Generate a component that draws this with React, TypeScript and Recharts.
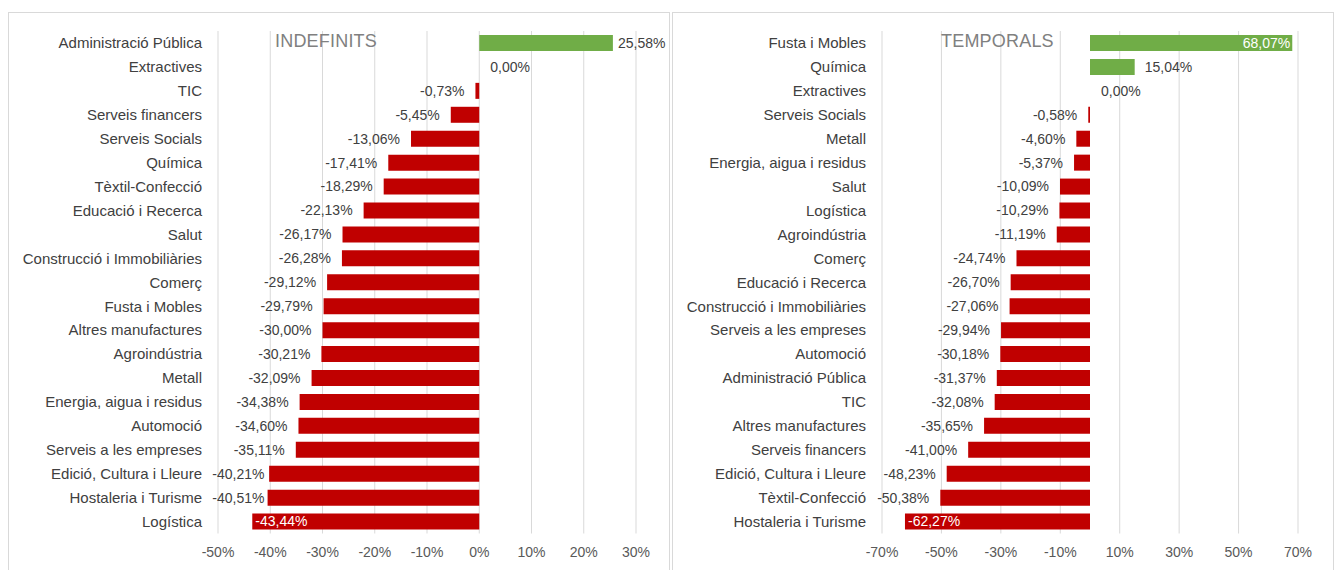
import { Bar, BarChart, CartesianGrid, Cell, LabelList, XAxis, YAxis } from "recharts";

// INDEFINITS: change per sector (%)
const indefCategories = [
  "Administració Pública",
  "Extractives",
  "TIC",
  "Serveis financers",
  "Serveis Socials",
  "Química",
  "Tèxtil-Confecció",
  "Educació i Recerca",
  "Salut",
  "Construcció i Immobiliàries",
  "Comerç",
  "Fusta i Mobles",
  "Altres manufactures",
  "Agroindústria",
  "Metall",
  "Energia, aigua i residus",
  "Automoció",
  "Serveis a les empreses",
  "Edició, Cultura i Lleure",
  "Hostaleria i Turisme",
  "Logística",
];
const indefValues = [
  25.58, 0.0, -0.73, -5.45, -13.06, -17.41, -18.29, -22.13, -26.17, -26.28, -29.12, -29.79, -30.0, -30.21,
  -32.09, -34.38, -34.6, -35.11, -40.21, -40.51, -43.44,
];
const indefTicks = [-50, -40, -30, -20, -10, 0, 10, 20, 30];

// TEMPORALS: change per sector (%)
const tempCategories = [
  "Fusta i Mobles",
  "Química",
  "Extractives",
  "Serveis Socials",
  "Metall",
  "Energia, aigua i residus",
  "Salut",
  "Logística",
  "Agroindústria",
  "Comerç",
  "Educació i Recerca",
  "Construcció i Immobiliàries",
  "Serveis a les empreses",
  "Automoció",
  "Administració Pública",
  "TIC",
  "Altres manufactures",
  "Serveis financers",
  "Edició, Cultura i Lleure",
  "Tèxtil-Confecció",
  "Hostaleria i Turisme",
];
const tempValues = [
  68.07, 15.04, 0.0, -0.58, -4.6, -5.37, -10.09, -10.29, -11.19, -24.74, -26.7, -27.06, -29.94, -30.18,
  -31.37, -32.08, -35.65, -41.0, -48.23, -50.38, -62.27,
];
const tempTicks = [-70, -50, -30, -10, 10, 30, 50, 70];

const GREEN = "#70AD47";
const RED = "#C00000";
const TEXT = "#404040";
const GRID = "#d9d9d9";
const FONT = "'Liberation Sans', Arial, sans-serif";

const CHART_W = 662;
const CHART_H = 570;
const AXIS_W = 210;

function pct(v: number): string {
  return `${v.toFixed(2).replace(".", ",")}%`;
}

// Mimics Excel's "outside end" labels: kept inside the chart area, moved
// into the bar (white) when there is no room left outside.
function makeLabel(plotLeft: number, chartRight: number) {
  return (props: any) => {
    const { x, y, width, height, value } = props;
    const v = Number(value);
    const text = pct(v);
    const w = text.length * 7.5;
    const left = Math.min(x, x + width);
    const right = Math.max(x, x + width);
    const cy = y + height / 2;
    const common = { y: cy, dy: "0.35em", fontSize: 14, fontFamily: FONT };
    if (v < 0) {
      let start = left - 11 - w;
      if (start < plotLeft - 6) start = plotLeft - 6;
      const end = start + w;
      if (end > left + 8) {
        return (
          <text {...common} x={left + 3} fill="#fff" textAnchor="start">
            {text}
          </text>
        );
      }
      return (
        <text {...common} x={end} fill={TEXT} textAnchor="end">
          {text}
        </text>
      );
    }
    let start = right + 10;
    if (start + w > chartRight) start = chartRight - w;
    if (start < right - 8) {
      return (
        <text {...common} x={right - 2} fill="#fff" textAnchor="end">
          {text}
        </text>
      );
    }
    return (
      <text {...common} x={start} fill={TEXT} textAnchor="start">
        {text}
      </text>
    );
  };
}

function Panel({
  title,
  categories,
  values,
  ticks,
  left,
  marginRight,
  titleLeft,
}: {
  title: string;
  categories: string[];
  values: number[];
  ticks: number[];
  left: number;
  marginRight: number;
  titleLeft: number;
}) {
  const rows = categories.map((name, i) => ({ name, value: values[i] }));
  const domain: [number, number] = [ticks[0], ticks[ticks.length - 1]];
  return (
    <>
      <div
        style={{
          position: "absolute",
          left,
          top: 12,
          width: 660,
          height: 570,
          borderTop: `1px solid ${GRID}`,
          borderLeft: `1px solid ${GRID}`,
          borderRight: `1px solid ${GRID}`,
        }}
      />
      <div style={{ position: "absolute", left, top: 0 }}>
        <BarChart
          width={CHART_W}
          height={CHART_H}
          data={rows}
          layout="vertical"
          margin={{ top: 31, right: marginRight, bottom: 6.5, left: 0 }}
        >
          <CartesianGrid stroke={GRID} horizontal={false} />
          <XAxis
            type="number"
            domain={domain}
            ticks={ticks}
            allowDataOverflow
            tickFormatter={(v: number) => `${v}%`}
            tickLine={false}
            axisLine={false}
            tickMargin={8}
            height={30}
            tick={{ fontSize: 14, fill: "#595959", fontFamily: FONT }}
          />
          <YAxis
            type="category"
            dataKey="name"
            width={AXIS_W}
            interval={0}
            tickLine={false}
            axisLine={false}
            tickMargin={10}
            tick={{ fontSize: 15, fill: TEXT, fontFamily: FONT }}
          />
          <Bar
            dataKey="value"
            barSize={16}
            minPointSize={(v: number) => (v === 0 ? 1 : 0)}
            isAnimationActive={false}
          >
            {rows.map((r) => (
              <Cell key={r.name} fill={r.value > 0 ? GREEN : r.value < 0 ? RED : "none"} />
            ))}
            <LabelList dataKey="value" content={makeLabel(AXIS_W, CHART_W - 7)} />
          </Bar>
        </BarChart>
      </div>
      <div
        style={{
          position: "absolute",
          left: titleLeft,
          top: 31,
          fontFamily: FONT,
          fontSize: 18,
          lineHeight: "20px",
          letterSpacing: 0.2,
          color: "#808080",
        }}
      >
        {title}
      </div>
    </>
  );
}

export default function App() {
  return (
    <div
      style={{
        position: "absolute",
        left: 0,
        top: 0,
        width: 1336,
        height: 570,
        overflow: "hidden",
        background: "#fff",
      }}
    >
      <Panel
        title="INDEFINITS"
        categories={indefCategories}
        values={indefValues}
        ticks={indefTicks}
        left={8}
        marginRight={34}
        titleLeft={275}
      />
      <Panel
        title="TEMPORALS"
        categories={tempCategories}
        values={tempValues}
        ticks={tempTicks}
        left={672}
        marginRight={36}
        titleLeft={941}
      />
    </div>
  );
}
